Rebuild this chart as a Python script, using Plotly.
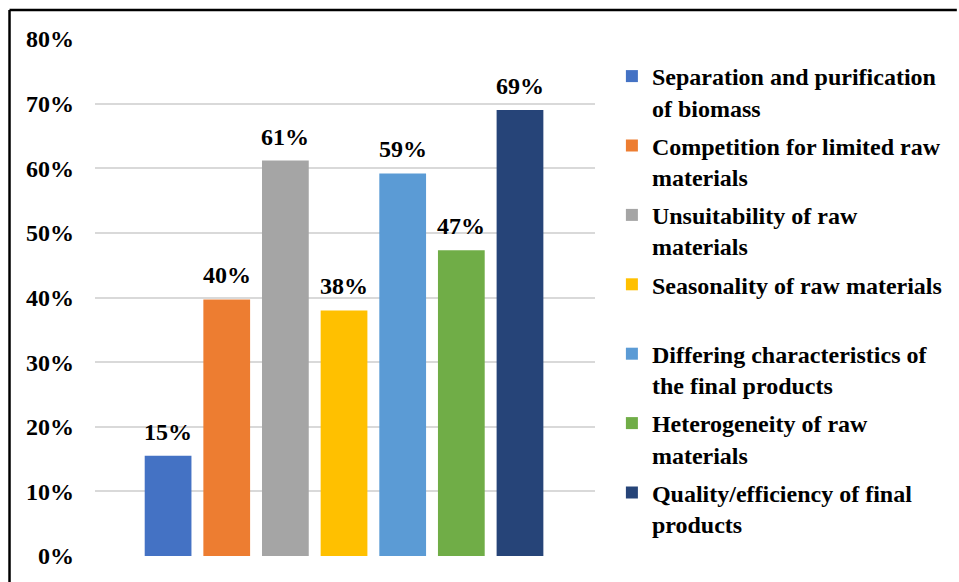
import plotly.graph_objects as go

categories = [
    "Separation and purification<br>of biomass",
    "Competition for limited raw<br>materials",
    "Unsuitability of raw<br>materials",
    "Seasonality of raw materials<br>&nbsp;",
    "Differing characteristics of<br>the final products",
    "Heterogeneity of raw<br>materials",
    "Quality/efficiency of final<br>products",
]
values = [0.155, 0.397, 0.612, 0.380, 0.592, 0.473, 0.690]
labels = ["15%", "40%", "61%", "38%", "59%", "47%", "69%"]
colors = ["#4472C4", "#ED7D31", "#A5A5A5", "#FFC000", "#5B9BD5", "#70AD47", "#264478"]
y_ticks = [0, 0.1, 0.2, 0.3, 0.4, 0.5, 0.6, 0.7, 0.8]
y_tick_text = ["0%", "10%", "20%", "30%", "40%", "50%", "60%", "70%", "80%"]

FONT = "Liberation Serif"
W, H = 959, 582
L, R, T, B = 95, 598, 39, 556  # plot area in px

fig = go.Figure()
for i, (name, v, c) in enumerate(zip(categories, values, colors)):
    fig.add_trace(go.Bar(x=[i], y=[v], name=name, legendgroup=f"g{i}",
                         marker=dict(color=c, line=dict(width=0)),
                         width=0.797, hoverinfo="skip"))
    fig.add_annotation(x=i, y=v, text=f"<b>{labels[i]}</b>", showarrow=False,
                       yanchor="middle", yshift=24,
                       font=dict(family=FONT, size=24, color="black"))

def px_x(p):
    return (p - L) / (R - L)

def px_y(p):
    return (B - p) / (B - T)

# outer frame (top and left edges)
fig.add_shape(type="line", xref="paper", yref="paper", x0=px_x(9), x1=px_x(962),
              y0=px_y(10), y1=px_y(10), line=dict(color="black", width=2.5))
fig.add_shape(type="line", xref="paper", yref="paper", x0=px_x(9), x1=px_x(9),
              y0=px_y(10), y1=px_y(590), line=dict(color="black", width=2.5))

fig.update_layout(
    width=W, height=H,
    margin=dict(l=L, r=W - R, t=T, b=H - B, pad=0),
    paper_bgcolor="white", plot_bgcolor="white",
    barmode="overlay",
    showlegend=True,
    legend=dict(x=px_x(615), y=px_y(54), xanchor="left", yanchor="top",
                font=dict(family=FONT, size=24, color="black", weight="bold"),
                valign="top", itemwidth=30, tracegroupgap=4,
                bgcolor="rgba(0,0,0,0)"),
    xaxis=dict(range=[-1.246, 7.279], showticklabels=False, showgrid=False,
               zeroline=False, showline=False, fixedrange=True),
    yaxis=dict(range=[0, 0.8], tickvals=y_ticks, ticktext=[f"<b>{t}</b>" for t in y_tick_text],
               showgrid=True, gridcolor="#D9D9D9", gridwidth=1.5, zeroline=False,
               showline=False, ticks="", ticklabelstandoff=20,
               tickfont=dict(family=FONT, size=24, color="black")),
)

fig.write_html("out.html")
